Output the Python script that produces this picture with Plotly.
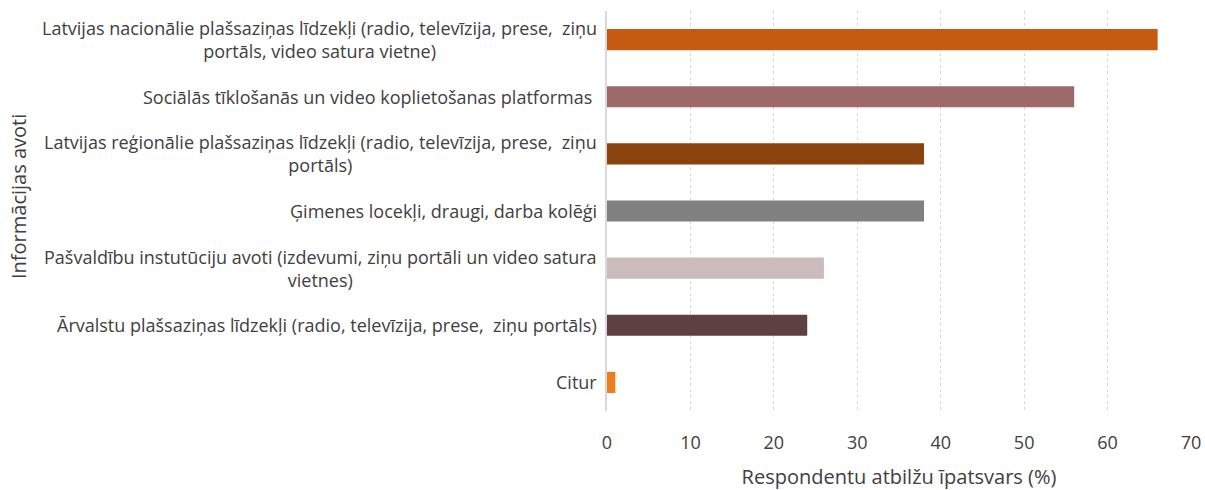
import plotly.graph_objects as go

CATEGORIES = [
    "Latvijas nacionālie plašsaziņas līdzekļi (radio, televīzija, prese,  ziņu<br>portāls, video satura vietne)",
    "Sociālās tīklošanās un video koplietošanas platformas ",
    "Latvijas reģionālie plašsaziņas līdzekļi (radio, televīzija, prese,  ziņu<br>portāls)",
    "Ģimenes locekļi, draugi, darba kolēģi",
    "Pašvaldību instutūciju avoti (izdevumi, ziņu portāli un video satura<br>vietnes)",
    "Ārvalstu plašsaziņas līdzekļi (radio, televīzija, prese,  ziņu portāls)",
    "Citur",
]
VALUES = [66, 56, 38, 38, 26, 24, 1]
COLORS = ["#C55A11", "#9C6A6A", "#8B430E", "#808080", "#CBBBBA", "#5E4040", "#ED7D1F"]
X_TICKS = [0, 10, 20, 30, 40, 50, 60, 70]

FONT = "Open Sans"
TEXT = "#404040"

fig = go.Figure(
    go.Bar(
        x=VALUES,
        y=list(range(len(CATEGORIES))),
        orientation="h",
        marker=dict(color=COLORS, line=dict(width=0)),
        width=0.37,
        hovertemplate="%{x}%<extra></extra>",
    )
)

# category labels as annotations so wrapped lines stay centred like the original
for i, label in enumerate(CATEGORIES):
    fig.add_annotation(
        x=0, y=i, xref="paper", yref="y",
        xanchor="right", yanchor="middle", align="center",
        xshift=-8, text=label, showarrow=False,
        font=dict(family=FONT, size=18, color=TEXT),
    )

fig.add_annotation(
    x=-1.0034, y=0.535, xref="paper", yref="paper",
    xshift=-3,
    text="Informācijas avoti", textangle=-90, showarrow=False,
    xanchor="center", yanchor="middle",
    font=dict(family=FONT, size=20, color=TEXT),
)

fig.update_layout(
    width=1205,
    height=490,
    margin=dict(l=606.5, r=14, t=11, b=79),
    plot_bgcolor="white",
    paper_bgcolor="white",
    showlegend=False,
    font=dict(family=FONT, color=TEXT),
    xaxis=dict(
        range=[0, 70],
        tickvals=X_TICKS,
        automargin=False,
        showgrid=True,
        gridcolor="#D9D9D9",
        griddash="dot",
        gridwidth=1,
        zeroline=False,
        showline=False,
        ticks="",
        ticklabelstandoff=19,
        tickfont=dict(family=FONT, size=18, color=TEXT),
        title=dict(text="Respondentu atbilžu īpatsvars (%)", standoff=24,
                   font=dict(family=FONT, size=20, color=TEXT)),
    ),
    yaxis=dict(
        range=[6.5, -0.5],
        automargin=False,
        showticklabels=False,
        showgrid=False,
        zeroline=False,
        showline=True,
        linecolor="#D9D9D9",
        linewidth=1.5,
        ticks="",
    ),
)

# drop the default body margin so the 1205x490 figure fills the window exactly
fig.write_html(
    "out.html",
    config={"displayModeBar": False},
    post_script="document.body.style.margin = '0';",
)
